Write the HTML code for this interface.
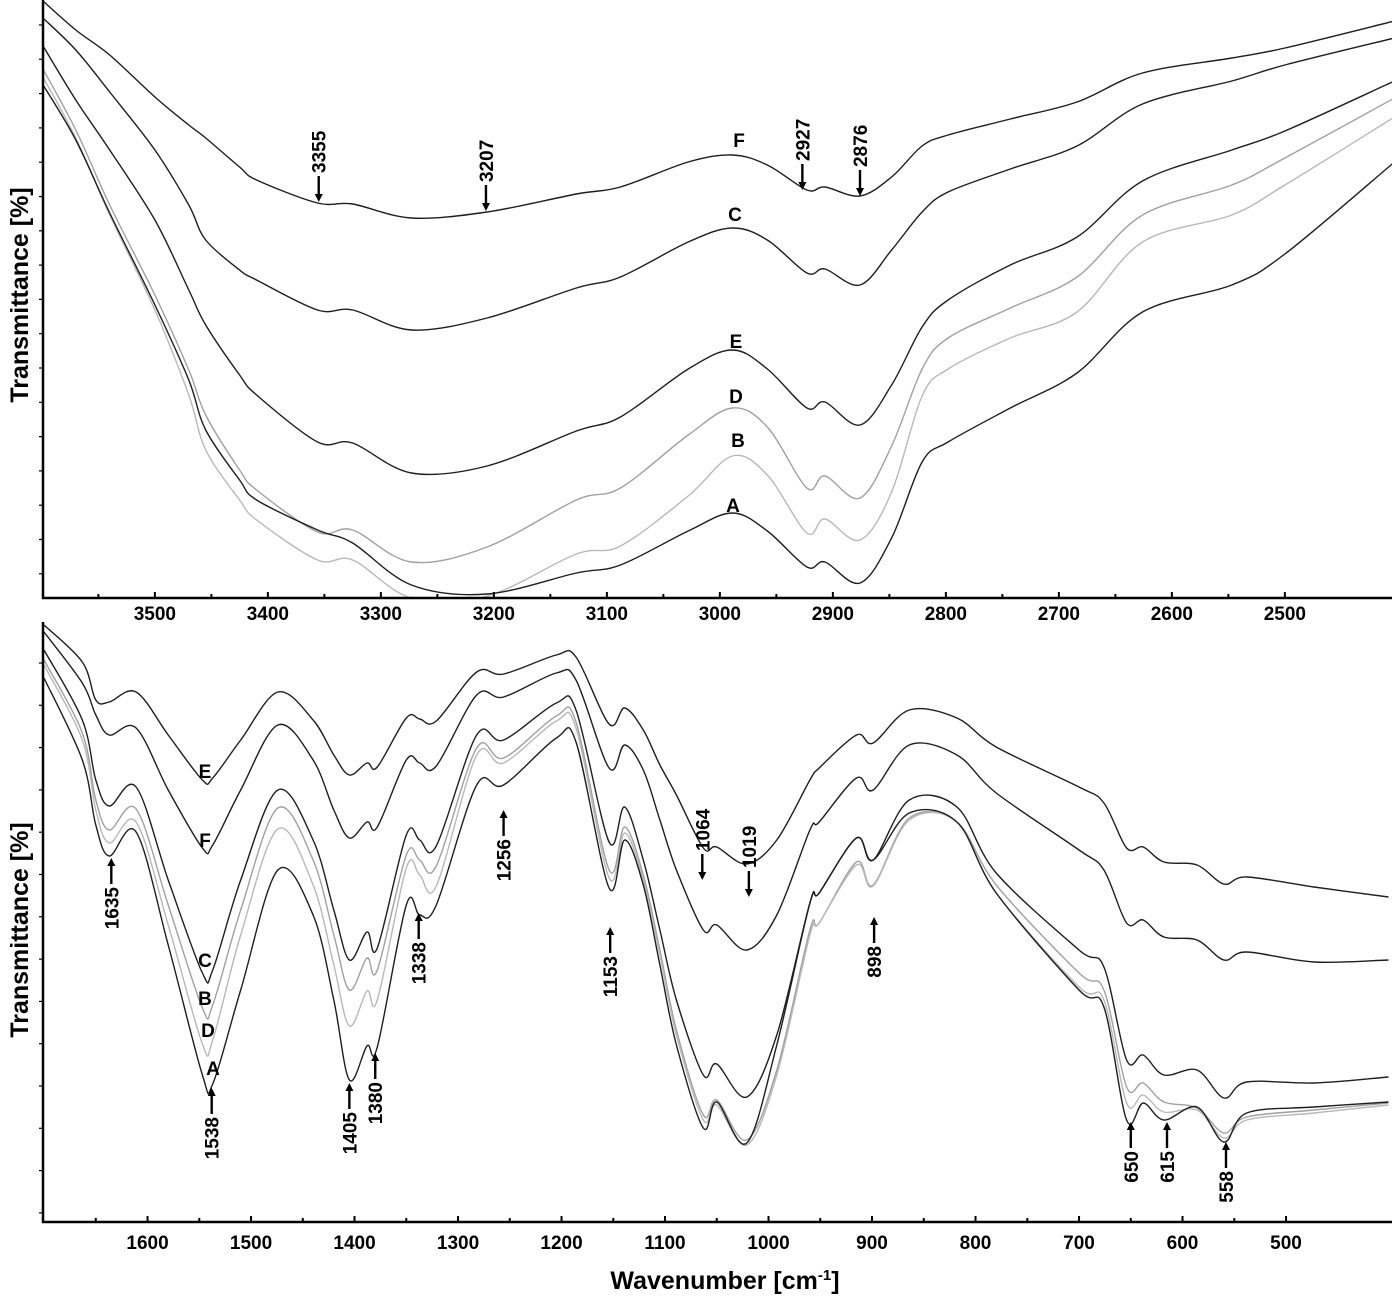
<!DOCTYPE html>
<html><head><meta charset="utf-8"><style>
html,body{margin:0;padding:0;background:#fff;}
svg{display:block;font-family:"Liberation Sans",Arial,sans-serif;}
.tl{font-size:19px;font-weight:bold;fill:#000;}
.ann{font-size:19px;font-weight:bold;fill:#000;}
.al{font-size:25px;font-weight:bold;fill:#000;}
</style></head><body>
<svg id="chart" width="1392" height="1300" viewBox="0 0 1392 1300" xmlns="http://www.w3.org/2000/svg"></svg>
<script>
// ---------- TOP PANEL DATA (wavenumber cm-1, transmittance a.u. depth from top) ----------
const topWn = [3600,3570,3540,3500,3470,3455,3425,3410,3356,3325,3273,3206,3127,3088,3028,2989,2958,2923,2907,2876,2848,2821,2798,2743,2684,2626,2547,2500,2403];
const topF = [0,30,55,97,125,138,167,180,203,204,218,212,194,187,162,155,165,190,187,196,177,146,135,119,102,73,58,48,21];
const topC = [17,50,92,150,205,240,270,280,310,310,330,318,288,277,242,228,240,273,269,285,250,212,192,169,146,104,81,65,38];
const topE = [44,100,150,220,290,325,375,395,442,443,473,466,431,417,369,350,369,408,402,425,385,327,300,265,237,181,150,131,81];
const topD = [67,130,205,295,370,415,470,490,532,530,562,547,500,488,435,408,427,488,476,498,446,369,338,308,277,215,185,158,98];
const topB = [75,138,215,310,395,450,500,520,560,560,598,596,554,546,496,456,475,533,519,540,492,396,369,338,312,242,215,185,117];
const topA = [83,140,213,305,380,430,480,500,530,543,585,594,573,565,531,513,531,567,562,583,538,462,442,408,373,312,285,254,162];
const topTicks = [3500,3400,3300,3200,3100,3000,2900,2800,2700,2600,2500];
// ---------- BOTTOM PANEL DATA ----------
const botWn = [1700,1663,1650,1637,1611,1580,1547,1537,1510,1474,1440,1420,1405,1388,1378,1350,1337,1321,1282,1256,1205,1186,1154,1139,1121,1105,1089,1063,1050,1021,992,960,951,915,899,864,818,780,700,676,654,638,618,586,560,538,473,401];
const botE = [625,662,700,702,692,735,780,778,740,692,720,755,775,763,767,718,719,721,672,674,655,657,724,708,730,765,795,848,847,864,840,780,768,735,743,710,718,747,787,803,848,847,862,865,884,877,887,897];
const botF = [632,683,715,735,728,790,848,845,790,725,760,810,838,822,827,760,763,766,695,697,673,680,768,745,770,820,870,930,925,950,915,830,822,778,790,745,755,793,850,870,923,920,937,940,960,952,962,960];
const botC = [650,720,780,806,787,880,973,970,880,790,840,910,960,932,948,835,840,846,735,740,703,710,842,807,860,930,1000,1075,1064,1097,1035,903,893,838,860,800,807,873,950,967,1060,1055,1075,1070,1098,1082,1083,1077];
const botB = [660,733,800,830,809,905,1008,1005,910,808,860,935,990,958,970,855,860,866,748,758,716,722,870,827,875,950,1030,1115,1100,1140,1070,930,923,862,885,818,822,885,973,990,1087,1083,1102,1108,1133,1117,1110,1103];
const botD = [665,740,810,843,822,925,1044,1040,935,829,885,965,1026,991,1000,868,875,886,755,763,721,728,878,833,880,955,1035,1120,1105,1145,1075,935,923,865,886,820,822,893,987,1000,1103,1095,1112,1110,1138,1120,1113,1105];
const botA = [678,760,825,856,832,945,1075,1084,990,870,915,1000,1080,1046,1047,905,915,905,785,785,738,742,888,840,885,965,1045,1128,1102,1143,1045,903,893,838,860,813,822,893,990,1007,1120,1103,1120,1107,1142,1113,1107,1102];
const botTicks = [1600,1500,1400,1300,1200,1100,1000,900,800,700,600,500];

const NS = "http://www.w3.org/2000/svg";
const svg = document.getElementById('chart');
function mk(tag, attrs, parent){const e=document.createElementNS(NS,tag);for(const k in attrs)e.setAttribute(k,attrs[k]);(parent||svg).appendChild(e);return e;}

const P1 = {x0:43, x1:1392, y0:0, y1:598, w0:3599, wPerPx:1/1.13, d0:0, d1:598};
const P2 = {x0:43, x1:1392, y0:622, y1:1222, w0:1701, wPerPx:1/1.035, d0:622, d1:1222};
function xS(P,w){return P.x0 + (P.w0 - w)/P.wPerPx;}
function yS(P,v){return P.y0 + (v-P.d0)/(P.d1-P.d0)*(P.y1-P.y0);}

function pathFrom(P, wn, vals){
  const pts = wn.map((w,i)=>[xS(P,w), yS(P,vals[i])]);
  let d = 'M'+pts[0][0].toFixed(1)+','+pts[0][1].toFixed(1);
  for(let i=0;i<pts.length-1;i++){
    const p0=pts[Math.max(0,i-1)],p1=pts[i],p2=pts[i+1],p3=pts[Math.min(pts.length-1,i+2)];
    const c1x=p1[0]+(p2[0]-p0[0])/6, c1y=p1[1]+(p2[1]-p0[1])/6;
    const c2x=p2[0]-(p3[0]-p1[0])/6, c2y=p2[1]-(p3[1]-p1[1])/6;
    d+=' C'+c1x.toFixed(1)+','+c1y.toFixed(1)+' '+c2x.toFixed(1)+','+c2y.toFixed(1)+' '+p2[0].toFixed(1)+','+p2[1].toFixed(1);
  }
  return d;
}

const defs = mk('defs',{});
const cp1 = mk('clipPath',{id:'cp1'},defs); mk('rect',{x:43,y:0,width:1349,height:598},cp1);
const cp2 = mk('clipPath',{id:'cp2'},defs); mk('rect',{x:43,y:622,width:1349,height:600},cp2);

function drawSeries(P, clip, wn, vals, color, name){
  const p = mk('path',{d:pathFrom(P,wn,vals),fill:'none',stroke:color,'stroke-width':1.4,'clip-path':'url(#'+clip+')'});
  
  
}
const black='#1e1e1e', gray='#b8b8b8', gray2='#a0a0a0';
drawSeries(P1,'cp1',topWn,topB,gray,'top-series-b');
drawSeries(P1,'cp1',topWn,topD,gray2,'top-series-d');
drawSeries(P1,'cp1',topWn,topF,black,'top-series-f');
drawSeries(P1,'cp1',topWn,topC,black,'top-series-c');
drawSeries(P1,'cp1',topWn,topE,black,'top-series-e');
drawSeries(P1,'cp1',topWn,topA,black,'top-series-a');
drawSeries(P2,'cp2',botWn,botB,gray2,'bottom-series-b');
drawSeries(P2,'cp2',botWn,botD,gray,'bottom-series-d');
drawSeries(P2,'cp2',botWn,botE,black,'bottom-series-e');
drawSeries(P2,'cp2',botWn,botF,black,'bottom-series-f');
drawSeries(P2,'cp2',botWn,botC,black,'bottom-series-c');
drawSeries(P2,'cp2',botWn,botA,black,'bottom-series-a');

function axes(P, ticks, prefix, labelY, yTickStart, yTickStep){
  const a = mk('path',{d:'M'+P.x0+','+P.y0+' V'+P.y1+' H'+P.x1,fill:'none',stroke:'#000','stroke-width':2.5});
  
  
  ticks.forEach(t=>{
    const x=xS(P,t);
    const tk = mk('line',{x1:x,x2:x,y1:P.y1,y2:P.y1-6,stroke:'#000','stroke-width':2});
    
    
    const m = xS(P,t+50);
    if(m>P.x0+2) mk('line',{x1:m,x2:m,y1:P.y1+1,y2:P.y1-4,stroke:'#000','stroke-width':2});
    const tx = mk('text',{x:x,y:labelY,'text-anchor':'middle',class:'tl'});
    tx.textContent = t;
    
    
  });
  for(let y=yTickStart;y<P.y1-4;y+=yTickStep){
    mk('line',{x1:P.x0-4,x2:P.x0,y1:y,y2:y,stroke:'#000','stroke-width':1.2});
  }
}
axes(P1, topTicks, 'top', 620, 25, 34.3);
axes(P2, botTicks, 'bottom', 1249, 663, 42.3);

function title(txt,x,y,rot,name){
  const t = mk('text',{x:x,y:y,'text-anchor':'middle',class:'al',transform:rot?('rotate(-90 '+x+' '+y+')'):''});
  t.textContent = txt;
  
  
  return t;
}
title('Transmittance [%]',28,295,true,'top-y-axis-title');
title('Transmittance [%]',28,930,true,'bottom-y-axis-title');
const xt = mk('text',{x:725,y:1289,'text-anchor':'middle',class:'al'});
xt.innerHTML = 'Wavenumber [cm<tspan dy="-9" font-size="15">-1</tspan><tspan dy="9">]</tspan>';



const topLetters = [['F',739,147],['C',735,221],['E',736,348],['D',736,403],['B',738,447],['A',733,512]];
const botLetters = [['E',205,778],['F',205,847],['C',205,967],['B',205,1005],['D',208,1037],['A',213,1075]];
topLetters.concat(botLetters).forEach(l=>{
  const t = mk('text',{x:l[1],y:l[2],'text-anchor':'middle',class:'ann'});
  t.textContent = l[0];
  
  
});

const peakLabels = ['3355','3207','2927','2876','1635','1538','1405','1380','1338','1256','1153','1064','1019','898','650','615','558'];
const peakTip = [202,211,190,196,858,1088,1083,1053,913,810,927,880,897,917,1122,1122,1142];
const peakDir = [1,1,1,1,-1,-1,-1,-1,-1,-1,-1,1,1,-1,-1,-1,-1];
peakLabels.forEach((lab,i)=>{
  const w = +lab, P = w>2000?P1:P2;
  const x = xS(P,w), tip = peakTip[i], dir = peakDir[i];
  const g = mk('g',{});
  
  
  const len = 26;
  const base = tip - dir*len;
  mk('line',{x1:x,x2:x,y1:base,y2:tip-dir*7,stroke:'#000','stroke-width':2.4},g);
  mk('path',{d:'M'+(x-4)+','+(tip-dir*8)+' L'+(x+4)+','+(tip-dir*8)+' L'+x+','+tip+' Z',fill:'#000'},g);
  const ty = base - dir*3;
  const t = mk('text',{x:x+7,y:ty,'text-anchor':dir>0?'start':'end',class:'ann',transform:'rotate(-90 '+(x+7)+' '+ty+')'},g);
  t.textContent = lab;
});
</script>
</body></html>
